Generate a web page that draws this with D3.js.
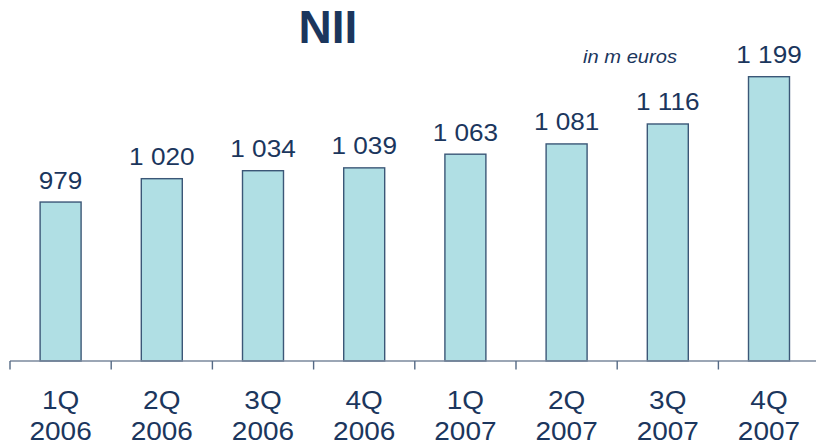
<!DOCTYPE html>
<html>
<head>
<meta charset="utf-8">
<script src="https://cdn.jsdelivr.net/npm/d3@7"></script>
<style>
  html, body { margin: 0; padding: 0; background: #fff; }
  svg { display: block; }
</style>
</head>
<body>
<svg id="chart" width="816" height="445"></svg>
<script>
// Net interest income by quarter, in m euros
const quarters = ["1Q", "2Q", "3Q", "4Q", "1Q", "2Q", "3Q", "4Q"];
const years    = ["2006", "2006", "2006", "2006", "2007", "2007", "2007", "2007"];
const nii      = [979, 1020, 1034, 1039, 1063, 1081, 1116, 1199];
const valueLabels = ["979", "1 020", "1 034", "1 039", "1 063", "1 081", "1 116", "1 199"];

const keys = quarters.map((q, i) => q + " " + years[i]);

const ink = "#1b365d";
const svg = d3.select("#chart");

const baseY = 361;
const x = d3.scaleBand()
  .domain(keys)
  .range([10, 819.6])
  .paddingInner(0.595)
  .paddingOuter(0.2975);
const y = d3.scaleLinear().domain([700, 1199]).range([baseY, 76.7]);

// Title and unit note
svg.append("text")
  .attr("x", 328).attr("y", 42.5)
  .attr("text-anchor", "middle")
  .attr("font-family", "Liberation Sans, Arial, sans-serif")
  .attr("font-weight", "bold")
  .attr("font-size", 46)
  .attr("fill", ink)
  .text("NII");

svg.append("text")
  .attr("transform", "translate(630,62.5) scale(1.15,1)")
  .attr("text-anchor", "middle")
  .attr("font-family", "Liberation Sans, Arial, sans-serif")
  .attr("font-style", "italic")
  .attr("font-size", 17.5)
  .attr("fill", ink)
  .text("in m euros");

// Bars
svg.append("g").selectAll("rect")
  .data(nii)
  .join("rect")
  .attr("x", (d, i) => x(keys[i]))
  .attr("y", d => y(d))
  .attr("width", x.bandwidth())
  .attr("height", d => baseY - y(d))
  .attr("fill", "#b0dfe4")
  .attr("stroke", "#3b5777")
  .attr("stroke-width", 1.4);

// Value labels above bars
svg.append("g").selectAll("text")
  .data(nii)
  .join("text")
  .attr("transform", (d, i) =>
    `translate(${x(keys[i]) + x.bandwidth() / 2},${y(d) - 13.5}) scale(1.09,1)`)
  .attr("text-anchor", "middle")
  .attr("font-family", "Liberation Sans, Arial, sans-serif")
  .attr("font-size", 24)
  .attr("fill", ink)
  .text((d, i) => valueLabels[i]);

// Category axis: boundary ticks between quarters
const step = x.step();
const x0 = 10;
const axisG = svg.append("g");
axisG.append("line")
  .attr("x1", x0).attr("x2", 816)
  .attr("y1", baseY).attr("y2", baseY)
  .attr("stroke", "#7a889c").attr("stroke-width", 1.6);
axisG.selectAll("line.tick")
  .data(d3.range(keys.length))
  .join("line")
  .attr("class", "tick")
  .attr("x1", i => x0 + i * step).attr("x2", i => x0 + i * step)
  .attr("y1", baseY).attr("y2", baseY + 8.5)
  .attr("stroke", "#556a85").attr("stroke-width", 1.4);

const cat = svg.append("g").selectAll("g")
  .data(keys)
  .join("g")
  .attr("transform", d => `translate(${x(d) + x.bandwidth() / 2},0)`);
cat.append("text")
  .attr("transform", "translate(0,408.5) scale(1.12,1)")
  .attr("text-anchor", "middle")
  .attr("font-family", "Liberation Sans, Arial, sans-serif")
  .attr("font-size", 25)
  .attr("fill", ink)
  .text((d, i) => quarters[i]);
cat.append("text")
  .attr("transform", "translate(0,440) scale(1.12,1)")
  .attr("text-anchor", "middle")
  .attr("font-family", "Liberation Sans, Arial, sans-serif")
  .attr("font-size", 25)
  .attr("fill", ink)
  .text((d, i) => years[i]);
</script>
</body>
</html>
